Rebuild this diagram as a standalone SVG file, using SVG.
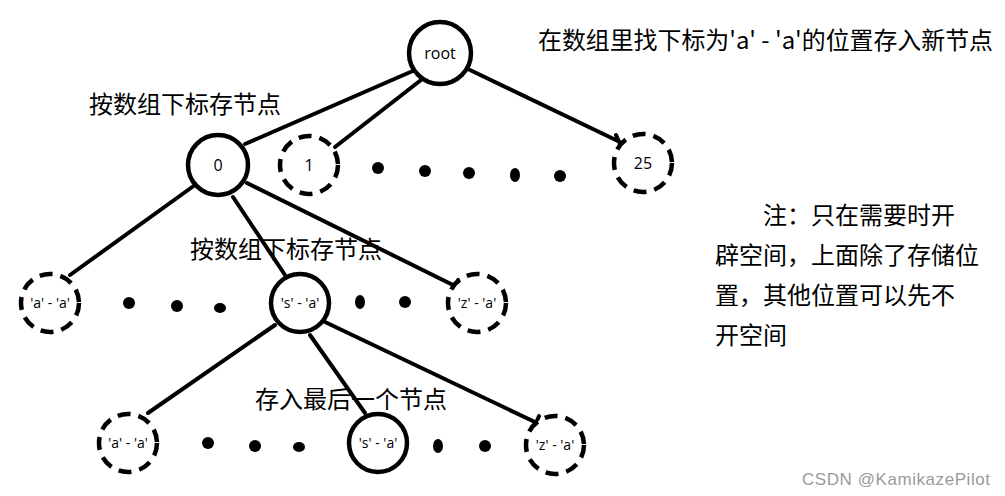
<svg xmlns="http://www.w3.org/2000/svg" width="1005" height="496" viewBox="0 0 1005 496">
<style>
.n{fill:#fff;stroke:#000;stroke-width:4.5}
.d{fill:#fff;stroke:#000;stroke-width:4.5;stroke-dasharray:13 8}
.l{stroke:#000;stroke-width:4;fill:none;stroke-linecap:round}
.t{font-family:"Open Sans","Liberation Sans",sans-serif;font-size:14px;fill:#000;text-anchor:middle}
.big{font-size:16px}
.c{font-family:"Noto Sans CJK SC","Liberation Sans",sans-serif;font-size:24px;fill:#000}
.dot{fill:#000}
</style>
<rect width="1005" height="496" fill="#fff"/>
<g id="connectors">
<path class="l" d="M415 70 L245 144"/>
<path class="l" d="M421 80 L335 147"/>
<path class="l" d="M470 70 L620 142 M616 135 L621 146"/>
<path class="l" d="M195 185 L70 275"/>
<path class="l" d="M233 197 L285 275"/>
<path class="l" d="M247 183 L457 287 M458 280 L455 292"/>
<path class="l" d="M275 325 L148 413"/>
<path class="l" d="M310 335 L365 413"/>
<path class="l" d="M325 322 L537 423 M539 416 L534 428"/>
</g>
<g id="node-root"><circle class="n" cx="440" cy="53" r="31"/><text class="t big" x="440" y="59">root</text></g>
<g id="node-0"><circle class="n" cx="218" cy="165" r="30"/><text class="t big" x="218" y="171">0</text></g>
<g id="node-1"><circle class="d" cx="309" cy="165" r="29"/><text class="t big" x="309" y="171">1</text></g>
<g id="node-25"><circle class="d" cx="643" cy="163" r="29"/><text class="t big" x="643" y="169">25</text></g>
<g id="dots-1"><ellipse class="dot" cx="378" cy="168" rx="6" ry="6"/><ellipse class="dot" cx="425" cy="171" rx="6" ry="6"/><ellipse class="dot" cx="469" cy="173" rx="6" ry="6"/><ellipse class="dot" cx="515" cy="175" rx="5" ry="7"/><ellipse class="dot" cx="560" cy="176" rx="6" ry="6"/></g>
<g id="node-a1"><circle class="d" cx="50" cy="303" r="29"/><text class="t" x="50" y="308">'a' - 'a'</text></g>
<g id="node-s1"><circle class="n" cx="300" cy="303" r="29"/><text class="t" x="300" y="308">'s' - 'a'</text></g>
<g id="node-z1"><circle class="d" cx="477" cy="303" r="29"/><text class="t" x="477" y="308">'z' - 'a'</text></g>
<g id="dots-2"><ellipse class="dot" cx="129" cy="303" rx="6" ry="6"/><ellipse class="dot" cx="177" cy="306" rx="6" ry="6"/><ellipse class="dot" cx="220" cy="308" rx="6" ry="5"/><ellipse class="dot" cx="360" cy="302" rx="5" ry="7"/><ellipse class="dot" cx="405" cy="302" rx="6" ry="6"/></g>
<g id="node-a2"><circle class="d" cx="128" cy="443" r="29"/><text class="t" x="128" y="448">'a' - 'a'</text></g>
<g id="node-s2"><circle class="n" cx="378" cy="443" r="29"/><text class="t" x="378" y="448">'s' - 'a'</text></g>
<g id="node-z2"><circle class="d" cx="555" cy="445" r="29"/><text class="t" x="555" y="450">'z' - 'a'</text></g>
<g id="dots-3"><ellipse class="dot" cx="208" cy="443" rx="6" ry="6"/><ellipse class="dot" cx="255" cy="446" rx="6" ry="6"/><ellipse class="dot" cx="299" cy="447" rx="6" ry="5"/><ellipse class="dot" cx="438" cy="446" rx="5" ry="7"/><ellipse class="dot" cx="485" cy="446" rx="6" ry="6"/></g>
<g id="labels">
<text class="c" x="89" y="113">按数组下标存节点</text>
<text class="c" x="190" y="258">按数组下标存节点</text>
<text class="c" x="255" y="408">存入最后一个节点</text>
<text class="c" x="538" y="49" textLength="455" lengthAdjust="spacingAndGlyphs">在数组里找下标为'a' - 'a'的位置存入新节点</text>
<text class="c" x="763" y="224">注：只在需要时开</text>
<text class="c" x="715" y="264">辟空间，上面除了存储位</text>
<text class="c" x="715" y="304">置，其他位置可以先不</text>
<text class="c" x="715" y="344">开空间</text>
<text x="802" y="485" font-family="Liberation Sans,sans-serif" font-size="17" fill="#9a9a9a" textLength="188">CSDN @KamikazePilot</text>
</g>
</svg>
